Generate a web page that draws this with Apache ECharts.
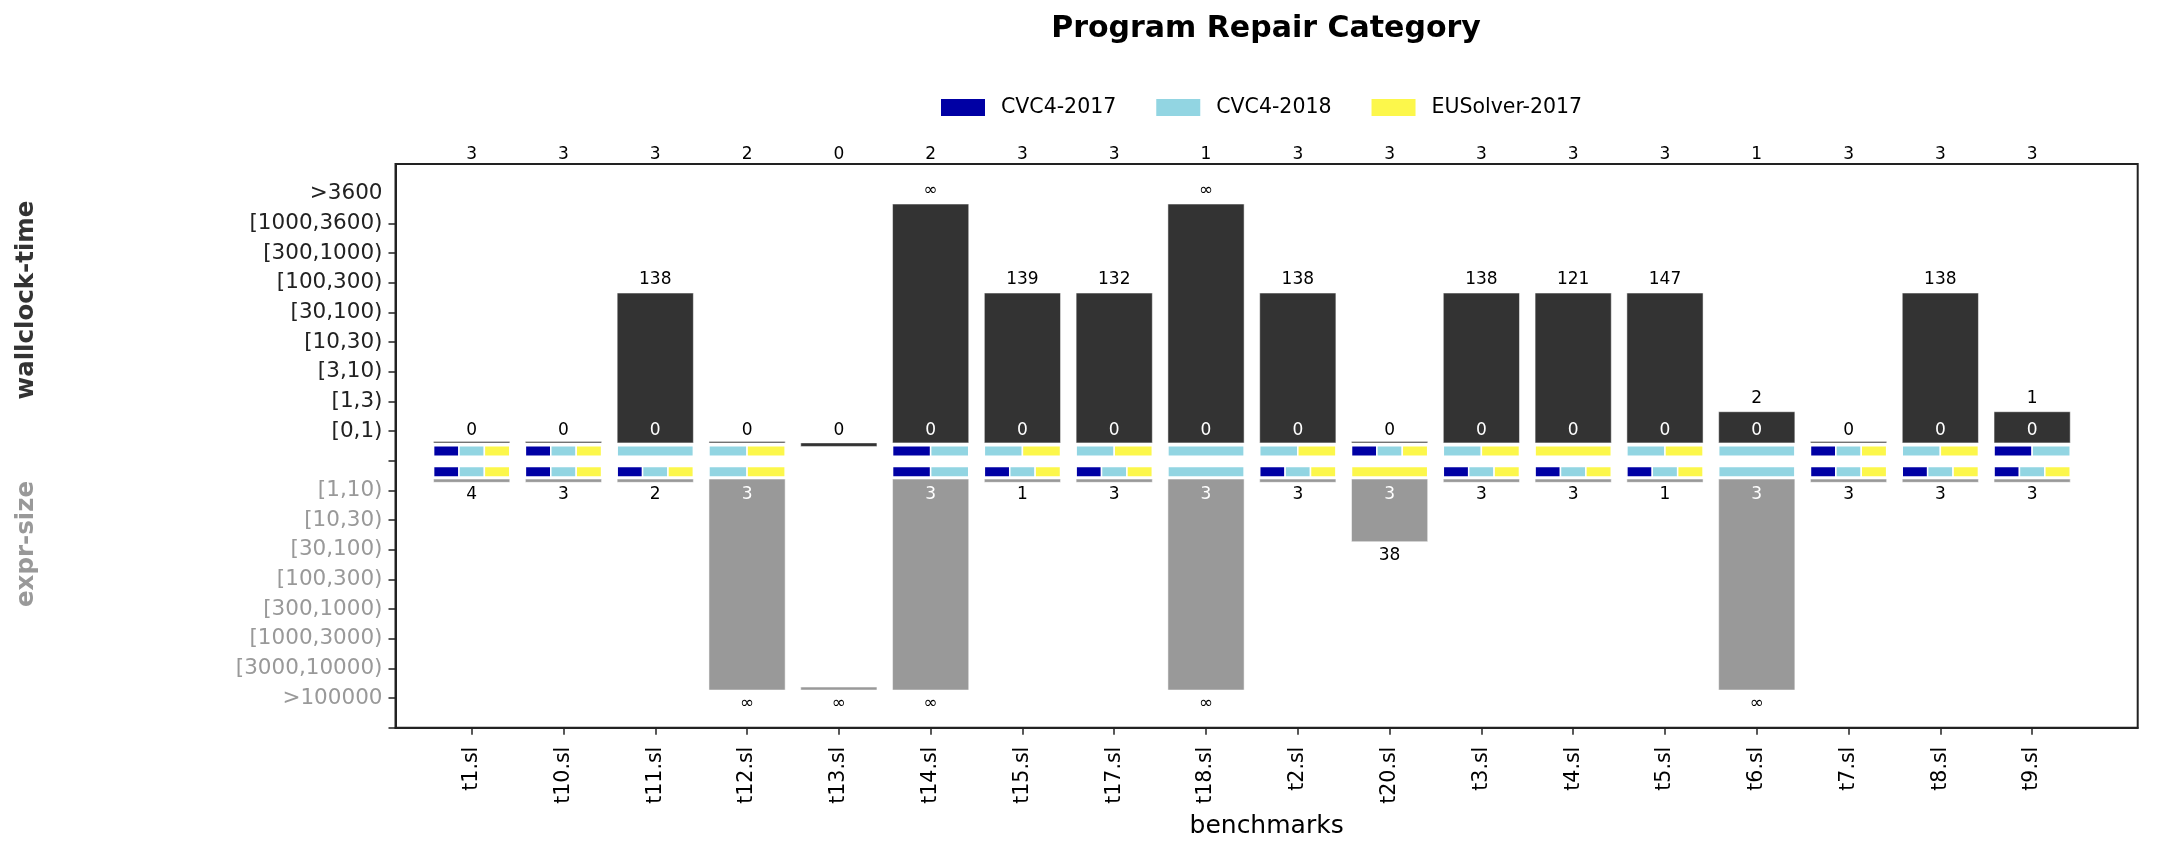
<!DOCTYPE html>
<html>
<head>
<meta charset="utf-8">
<title>Program Repair Category</title>
<script src="https://cdn.jsdelivr.net/npm/echarts@6/dist/echarts.min.js"></script>
<style>
html, body { margin: 0; padding: 0; background: #fff; }
#chart { width: 2161px; height: 850px; }
</style>
</head>
<body>
<div id="chart"></div>
<script>
// benchmarks, in plotting order
var benchmarks = ['t1.sl', 't10.sl', 't11.sl', 't12.sl', 't13.sl', 't14.sl', 't15.sl', 't17.sl', 't18.sl',
    't2.sl', 't20.sl', 't3.sl', 't4.sl', 't5.sl', 't6.sl', 't7.sl', 't8.sl', 't9.sl'];
var solvers = ['CVC4-2017', 'CVC4-2018', 'EUSolver-2017'];
var solverColors = ['#0000a4', '#92d5e2', '#fcf74b'];

// tick labels
var timeTicks = ['[0,1)', '[1,3)', '[3,10)', '[10,30)', '[30,100)', '[100,300)', '[300,1000)', '[1000,3600)', '>3600'];
var sizeTicks = ['[1,10)', '[10,30)', '[30,100)', '[100,300)', '[300,1000)', '[1000,3000)', '[3000,10000)', '>100000'];

// number of solvers that solved each benchmark (above the frame)
var solvedCount = [3, 3, 3, 2, 0, 2, 3, 3, 1, 3, 3, 3, 3, 3, 1, 3, 3, 3];

// wallclock-time: bucket (1 = [0,1) ... 9 = >3600), label on top, label at foot
var timeBucket = [1, 1, 6, 1, 1, 9, 6, 6, 9, 6, 1, 6, 6, 6, 2, 1, 6, 2];
var timeLabel = ['', '', '138', '', '', '∞', '139', '132', '∞', '138', '', '138', '121', '147', '2', '', '138', '1'];
var timeFoot = ['0', '0', '0', '0', '0', '0', '0', '0', '0', '0', '0', '0', '0', '0', '0', '0', '0', '0'];

// expr-size: bucket (1 = [1,10) ... 8 = >100000), label at foot, label under the bar
var sizeBucket = [1, 1, 1, 8, 8, 8, 1, 1, 8, 1, 3, 1, 1, 1, 8, 1, 1, 1];
var sizeFoot = ['4', '3', '2', '3', '', '3', '1', '3', '3', '3', '3', '3', '3', '1', '3', '3', '3', '3'];
var sizeLabel = ['', '', '', '∞', '∞', '∞', '', '', '∞', '', '38', '', '', '', '∞', '', '', ''];

// best solvers per benchmark (indices into solvers)
var timeWinners = [[0, 1, 2], [0, 1, 2], [1], [1, 2], [], [0, 1], [1, 2], [1, 2], [1], [1, 2],
    [0, 1, 2], [1, 2], [2], [1, 2], [1], [0, 1, 2], [1, 2], [0, 1]];
var sizeWinners = [[0, 1, 2], [0, 1, 2], [0, 1, 2], [1, 2], [], [0, 1], [0, 1, 2], [0, 1, 2], [1], [0, 1, 2],
    [2], [0, 1, 2], [0, 1, 2], [0, 1, 2], [1], [0, 1, 2], [0, 1, 2], [0, 1, 2]];

var FONT = '"DejaVu Sans", Verdana, sans-serif';
var BAR_W = 0.83;
var TIME_BASE = 0.6, SIZE_BASE = -0.62;
var ROWS = [[0.15, 0.5], [-0.55, -0.2]];

var chart = echarts.init(document.getElementById('chart'));

function idx(n) {
    var a = [];
    for (var i = 0; i < n; i++) a.push(i);
    return a;
}

function text(x, y, str, color, size) {
    return {
        type: 'text', x: x, y: y, silent: true,
        style: { text: str, fill: color, font: (size || 17) + 'px ' + FONT, textAlign: 'center', textVerticalAlign: 'middle' }
    };
}

// dark wallclock bars
function renderTime(params, api) {
    var i = api.value(0);
    var half = BAR_W / 2;
    var solved = solvedCount[i] > 0;
    var top = solved ? timeBucket[i] - 0.35 : TIME_BASE;
    var base = solved ? TIME_BASE : TIME_BASE - 0.12;
    var a = api.coord([i - half, top]);
    var b = api.coord([i + half, base]);
    var h = Math.max(b[1] - a[1], 1.5);
    var kids = [{
        type: 'rect', shape: { x: a[0], y: b[1] - h, width: b[0] - a[0], height: h },
        style: { fill: '#333333', stroke: 'rgba(255,255,255,0.5)', lineWidth: 1 }
    }];
    var f = api.coord([i, 1.02]);
    kids.push(text(f[0], f[1], timeFoot[i], top > 1.3 ? '#fff' : '#000'));
    if (timeLabel[i]) kids.push(text(a[0] + (b[0] - a[0]) / 2, a[1] - 13, timeLabel[i], '#000'));
    var c = api.coord([i, 10]);
    kids.push(text(c[0], c[1] - 9, String(solvedCount[i]), '#000'));
    return { type: 'group', children: kids };
}

// gray expr-size bars
function renderSize(params, api) {
    var i = api.value(0);
    var half = BAR_W / 2;
    var bottom = -sizeBucket[i] + 0.27;
    var topY = solvedCount[i] > 0 ? SIZE_BASE : bottom + 0.1;
    var a = api.coord([i - half, topY]);
    var b = api.coord([i + half, bottom]);
    var kids = [{
        type: 'rect', shape: { x: a[0], y: a[1], width: b[0] - a[0], height: Math.max(b[1] - a[1], 1.5) },
        style: { fill: '#999999', stroke: 'rgba(255,255,255,0.5)', lineWidth: 1 }
    }];
    var f = api.coord([i, -1.15]);
    if (sizeFoot[i]) kids.push(text(f[0], f[1], sizeFoot[i], bottom < -1.4 ? '#fff' : '#000'));
    if (sizeLabel[i]) kids.push(text(f[0], b[1] + 14, sizeLabel[i], '#000'));
    return { type: 'group', children: kids };
}

// coloured winner strips
function renderWinner(params, api) {
    var i = api.value(0), row = api.value(1), slot = api.value(2), n = api.value(3);
    var w = BAR_W / n;
    var x0 = i - BAR_W / 2 + slot * w;
    var a = api.coord([x0, ROWS[row][1]]);
    var b = api.coord([x0 + w, ROWS[row][0]]);
    return {
        type: 'rect', shape: { x: a[0], y: a[1], width: b[0] - a[0], height: b[1] - a[1] },
        style: { fill: api.visual('color'), stroke: '#fff', lineWidth: 1.5 }
    };
}

function winnerData(s) {
    var out = [];
    benchmarks.forEach(function (name, i) {
        [timeWinners[i], sizeWinners[i]].forEach(function (list, row) {
            var k = list.indexOf(s);
            if (k >= 0) out.push([i, row, k, list.length]);
        });
    });
    return out;
}

var series = [
    { type: 'custom', name: 'time', renderItem: renderTime, data: idx(benchmarks.length).map(function (i) { return [i]; }), z: 2 },
    { type: 'custom', name: 'size', renderItem: renderSize, data: idx(benchmarks.length).map(function (i) { return [i]; }), z: 2 }
];
solvers.forEach(function (s, k) {
    series.push({
        type: 'custom', name: s, renderItem: renderWinner, data: winnerData(k),
        itemStyle: { color: solverColors[k] }, z: 3
    });
});

var option = {
    backgroundColor: '#fff',
    animation: false,
    textStyle: { fontFamily: FONT },
    legend: {
        data: solvers, left: 941, top: 97, padding: 0, icon: 'rect',
        itemWidth: 44, itemHeight: 17, itemGap: 40,
        textStyle: { fontSize: 20.5, color: '#000', fontFamily: FONT, padding: [0, 0, 0, 11] }
    },
    grid: {
        left: 395.5, right: 23.3, top: 164, bottom: 122.3, outerBoundsMode: 'none',
        show: true, borderColor: '#222', borderWidth: 2
    },
    xAxis: {
        type: 'value', min: -0.83, max: 18.15,
        name: 'benchmarks', nameLocation: 'middle', nameGap: 86,
        nameTextStyle: { fontSize: 25, color: '#000', fontFamily: FONT },
        splitLine: { show: false },
        axisLine: { show: true, onZero: false, lineStyle: { color: '#222', width: 2 } },
        axisTick: { show: true, length: 7, lineStyle: { color: '#222', width: 1.5 }, customValues: idx(benchmarks.length) },
        axisLabel: {
            customValues: idx(benchmarks.length), rotate: 90, margin: 19,
            fontSize: 20.5, color: '#000', fontFamily: FONT,
            formatter: function (v) { return benchmarks[Math.round(v)] || ''; }
        }
    },
    yAxis: {
        type: 'value', min: -9, max: 10,
        splitLine: { show: false },
        axisLine: { show: true, onZero: false, lineStyle: { color: '#222', width: 2 } },
        axisTick: {
            show: true, length: 7, lineStyle: { color: '#222', width: 1.5 },
            customValues: [-9, -8, -7, -6, -5, -4, -3, -2, -1, 0, 1, 2, 3, 4, 5, 6, 7, 8]
        },
        axisLabel: {
            customValues: [-8, -7, -6, -5, -4, -3, -2, -1, 1, 2, 3, 4, 5, 6, 7, 8, 9], margin: 13,
            fontSize: 21.5, fontFamily: FONT,
            formatter: function (v) {
                v = Math.round(v);
                if (v > 0) return '{t|' + timeTicks[v - 1] + '}';
                if (v < 0) return '{s|' + sizeTicks[-v - 1] + '}';
                return '';
            },
            rich: {
                t: { color: '#222', fontSize: 21.5, fontFamily: FONT },
                s: { color: '#999', fontSize: 21.5, fontFamily: FONT }
            }
        }
    },
    graphic: [
        { type: 'text', x: 1266, y: 29.5, style: { text: 'Program Repair Category', font: 'bold 30px ' + FONT, fill: '#000', textAlign: 'center', textVerticalAlign: 'middle' } },
        { type: 'text', x: 27, y: 300, rotation: Math.PI / 2, style: { text: 'wallclock-time', font: 'bold 24.5px ' + FONT, fill: '#333', textAlign: 'center', textVerticalAlign: 'middle' } },
        { type: 'text', x: 27, y: 544, rotation: Math.PI / 2, style: { text: 'expr-size', font: 'bold 24.5px ' + FONT, fill: '#999', textAlign: 'center', textVerticalAlign: 'middle' } }
    ],
    series: series
};

chart.setOption(option);
</script>
</body>
</html>
